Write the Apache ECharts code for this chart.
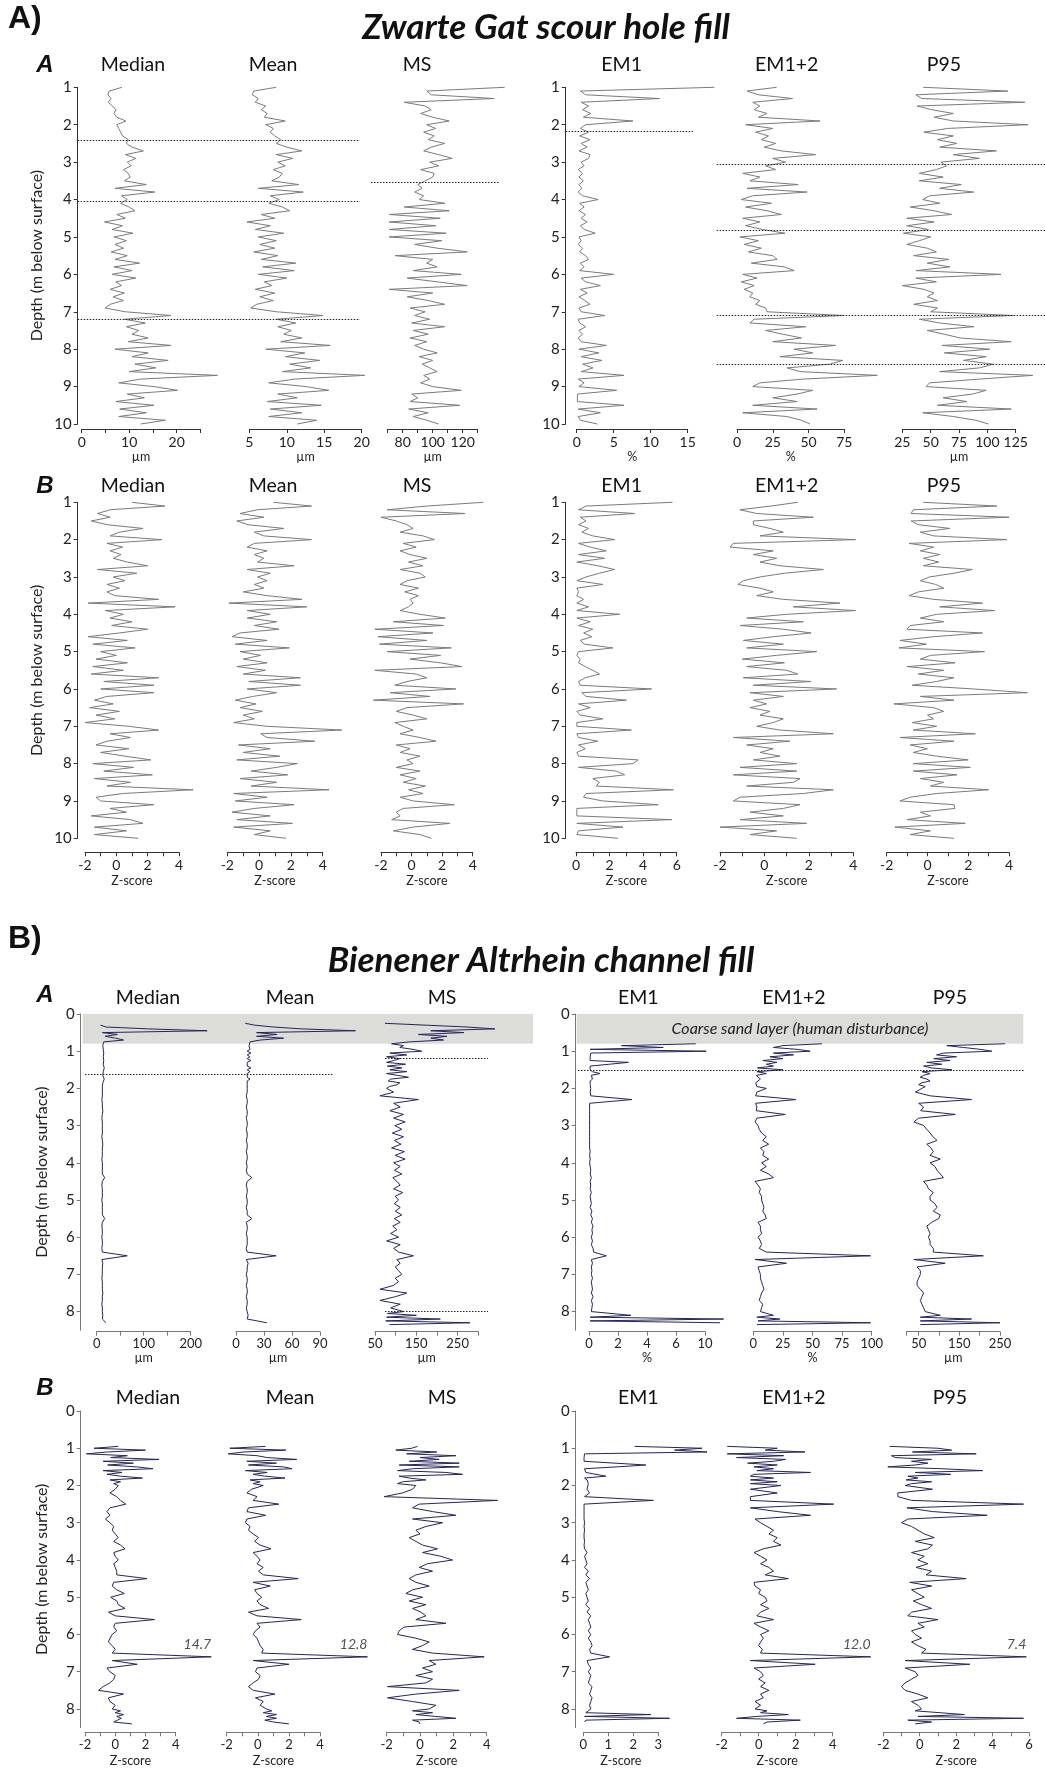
<!DOCTYPE html>
<html>
<head>
<meta charset="utf-8">
<script src="https://cdn.jsdelivr.net/npm/echarts@6/dist/echarts.min.js"></script>
<style>
  html, body { margin: 0; padding: 0; background: #fff; }
  #chart { width: 1045px; height: 1769px; }
</style>
</head>
<body>
<div id="chart"></div>
<script>
// ---------- data ----------
const panelNames = ["Median", "Mean", "MS", "EM1", "EM1+2", "P95"];

// Zwarte Gat: depth of every sample (m below surface)
const depthZG = [
  1.0,1.1,1.2,1.3,1.4,1.5,1.6,1.7,1.8,1.9,
  2.0,2.1,2.2,2.3,2.4,2.5,2.6,2.7,2.8,2.9,
  3.0,3.1,3.2,3.3,3.4,3.5,3.6,3.7,3.8,3.9,
  4.0,4.1,4.2,4.3,4.4,4.5,4.6,4.7,4.8,4.9,
  5.0,5.1,5.2,5.3,5.4,5.5,5.6,5.7,5.8,5.9,
  6.0,6.1,6.2,6.3,6.4,6.5,6.6,6.7,6.8,6.9,
  7.0,7.1,7.2,7.3,7.4,7.5,7.6,7.7,7.8,7.9,
  8.0,8.1,8.2,8.3,8.4,8.5,8.6,8.7,8.8,8.9,
  9.0,9.1,9.2,9.3,9.4,9.5,9.6,9.7,9.8,9.9,
  10.0
];

// Zwarte Gat, A: raw values
const zgMedian = [
  8.5,5.8,5.5,6.2,5.6,6.5,7.2,6.8,7.4,9.3,
  7.4,7.8,8.2,8.6,9.8,9.4,10.6,13.0,9.2,11.4,
  9.6,10.4,8.8,9.8,10.2,9.0,13.6,7.0,15.4,8.4,
  9.6,8.2,10.0,11.2,7.4,9.2,4.8,8.6,6.4,10.8,
  6.8,9.4,7.0,8.8,6.2,9.6,7.0,12.2,6.8,10.6,
  6.4,11.4,7.2,8.4,6.0,9.0,6.6,8.8,6.0,4.9,
  9.2,18.8,9.0,13.4,9.4,12.0,10.6,14.0,9.8,18.8,
  7.0,14.0,10.6,18.2,11.2,15.6,10.0,28.6,12.4,7.8,
  15.2,20.2,9.6,13.2,7.2,15.2,8.0,13.6,7.8,17.6,
  12.4
];
const zgMean = [
  8.6,5.6,5.4,6.2,5.8,7.2,6.6,7.4,7.0,9.8,
  7.2,8.2,7.8,8.4,9.2,8.6,10.0,12.0,8.6,10.8,
  8.8,9.8,8.2,9.4,9.0,8.0,11.6,6.2,12.2,7.8,
  9.0,7.6,9.4,10.4,6.6,8.4,4.7,7.8,5.8,9.6,
  6.2,8.6,6.4,8.4,5.6,8.8,6.6,11.2,6.8,11.0,
  6.2,10.0,7.0,8.0,5.8,8.4,6.4,8.2,6.0,5.2,
  8.6,14.8,8.6,11.2,8.8,10.6,9.6,12.0,9.2,15.8,
  7.2,12.4,9.8,14.4,10.4,13.2,9.4,20.4,11.0,7.6,
  12.6,15.6,8.8,11.4,7.4,14.6,7.8,12.0,7.6,14.0,
  11.4
];
const zgMS = [
  148,96,99,141,81,95,99,92,100,111,
  96,102,94,101,97,108,99,94,104,113,
  98,104,92,101,100,95,90,93,88,94,
  91,108,81,111,71,105,71,102,71,109,
  71,106,88,103,123,75,100,96,103,87,
  119,83,103,123,71,100,83,97,108,85,
  95,88,98,86,108,87,97,85,96,88,
  94,103,91,100,93,98,103,94,98,92,
  100,119,86,90,85,118,84,97,87,96,
  104
];
const zgEM1 = [
  18.6,0.5,1.2,11.2,0.6,1.6,0.8,1.9,0.9,7.6,
  1.2,0.5,1.6,0.4,1.8,0.6,1.4,0.3,1.8,1.6,
  0.6,1.0,0.2,0.8,0.3,0.9,0.3,0.7,0.2,0.8,
  2.9,0.4,1.0,0.3,1.2,0.6,1.4,0.5,1.0,2.5,
  0.3,0.6,0.2,0.8,0.4,1.2,1.6,0.5,1.0,0.4,
  5.0,0.6,1.2,3.2,0.5,1.4,0.3,1.1,1.8,0.3,
  0.6,3.8,0.2,0.4,1.2,0.3,0.8,0.2,0.6,4.0,
  0.3,3.0,0.6,3.4,0.8,2.2,0.6,6.4,0.2,1.0,
  0.3,5.4,0.1,0.1,0.1,6.4,0.2,3.2,0.2,0.5,
  2.8
];
const zgEM12 = [
  27.7,7,15,38.8,11,16,12,21,15,58,
  6,25,13,22,17,27,19,31,55,25,
  34,20,27,4,16,9,42.8,7,49,11,
  3,24,6,21,31,4,16,6,18,33.5,
  2,15,5,17,8,25,28,10,33,40,
  4,14,3,12,5,11,9,16,13,20,
  21,75,12,9,48,20,32,45,25,69,
  40,53,30,74,65,35,44,98,46,16,
  11,53,42,25,42,11,56,4,35,45,
  51
];
const zgP95 = [
  43.5,118,37,42,133,38,51,70,53,70,
  136,65,44,70,56,73,58,108,70,93,
  59,64,55,40,61,40,77,58,88,49,
  43,58,32,53,68.5,29,53,29,48,26,
  50,40,29,47,55,35,66,47,67,37,
  112,37,55,25,44,53,47,56,35,56,
  50,123,40,58,88,47,62,76,121,60,
  102,62,99,79,105,93,58,140,93,49,
  46,99,87,61,82,56,121,43,70,90,
  101
];

// Zwarte Gat, B: Z-scores
const zgMedianZ = [
  1.0,3.1,-0.4,-1.2,-0.4,-1.6,-0.6,1.7,0.2,-0.4,
  2.9,-0.6,0.4,-0.4,0.3,-0.2,0.7,2.0,-1.2,1.3,
  -0.2,0.55,-0.6,0.2,-0.6,-0.1,2.7,-1.8,3.75,-0.7,
  0.45,-0.4,1.0,-0.3,2.0,0.2,-1.8,0.7,-1.5,1.2,
  -1.0,0.0,-1.3,0.7,-1.5,0.45,-1.6,2.7,-0.8,2.4,
  -1.0,2.4,-0.6,-1.4,-0.2,-1.7,0.2,-1.3,-0.1,-2.0,
  0.8,2.7,-0.4,0.9,-0.6,-1.3,0.8,-1.0,0.55,2.2,
  -1.5,1.1,-0.8,2.3,-1.4,0.9,-0.6,4.9,0.4,-1.3,
  -1.0,2.4,-0.4,0.65,-1.6,0.9,1.7,-1.4,0.65,-1.4,
  1.4
];
const zgMeanZ = [
  0.9,3.3,-0.1,-1.2,0.3,-1.4,-0.7,1.55,-0.3,0.3,
  3.3,-0.3,-0.75,0.5,-0.3,0.3,-0.1,2.2,-0.75,0.7,
  -0.1,0.5,-0.3,0.3,-1.0,0.5,2.7,-1.9,3.0,-0.75,
  0.7,-0.75,1.1,-0.3,1.25,-1.2,-1.7,0.5,-1.5,1.9,
  -1.2,0.1,-1.0,0.5,-1.4,0.4,-1.0,2.6,-0.65,2.6,
  -0.75,1.1,-0.4,-1.5,-0.2,-1.2,0.2,-1.0,-0.3,-1.6,
  0.5,5.2,0.1,0.5,3.5,-1.3,0.7,-1.0,1.3,-1.4,
  2.4,1.1,-0.5,1.8,-1.2,1.1,-0.5,4.4,-1.6,0.5,
  -1.5,2.2,-0.3,-1.7,0.7,-1.4,2.1,-1.6,0.7,-0.3,
  1.7
];
const zgMSZ = [
  4.7,1.0,-1.6,3.5,-2.0,-1.0,-0.3,0.1,-0.75,0.75,
  1.5,-0.55,0.3,-0.75,-0.1,1.0,-0.2,0.75,-0.75,0.55,
  0.9,-0.3,-0.75,0.45,-0.45,0.45,-0.1,0.1,-0.2,-0.75,
  0.55,2.2,-1.2,2.1,-2.4,1.4,-2.2,1.0,-2.1,2.6,
  -1.6,1.9,-0.1,1.9,3.3,-2.4,0.3,1.0,-0.3,-1.1,
  2.9,-1.4,1.2,-2.5,3.4,-0.3,-1.0,0.1,1.0,-1.1,
  -0.55,0.1,-0.75,0.55,1.6,-1.0,-0.1,-0.75,0.55,-0.3,
  0.1,-1.0,0.55,-0.75,0.3,-0.55,0.9,-0.2,0.75,-0.75,
  0.1,2.8,-0.55,-1.0,-0.75,-1.3,2.5,0.1,-1.2,0.55,
  1.3
];
const zgEM1Z = [
  5.75,0.6,0.15,3.5,0.25,0.6,0.15,0.75,0.35,1.0,
  2.3,0.15,0.85,1.8,0.15,1.7,0.05,1.3,2.3,1.4,
  0.6,0.05,1.6,0.05,0.15,0.05,0.45,0.05,0.75,0.05,
  2.6,0.05,0.85,0.15,1.0,0.45,0.95,0.25,0.5,2.2,
  0.15,0.05,0.25,0.15,0.55,1.0,1.4,0.55,0.15,0.25,
  4.5,0.35,0.6,3.0,0.15,0.85,0.05,0.25,1.6,0.05,
  0.05,3.3,0.05,0.15,1.3,0.15,0.55,0.05,0.15,3.7,
  3.4,0.15,2.4,2.9,1.0,1.4,1.2,5.8,0.6,0.45,
  1.6,4.9,0.05,0.05,0.05,5.7,0.05,2.8,0.15,0.05,
  2.5
];
const zgEM12Z = [
  1.5,0.3,-1.1,-0.35,2.2,-0.5,-0.5,0.25,0.85,-0.2,
  4.1,-1.4,-1.55,0.4,-0.5,0.55,-0.2,0.7,2.65,0.9,
  -0.2,-0.95,-1.2,-0.2,0.4,-0.35,0.85,3.4,1.3,4.1,
  1.0,-0.8,1.75,-1.1,0.85,2.1,0.4,-0.95,0.85,-0.8,
  2.35,0.55,-1.0,0.9,-0.8,1.0,1.5,-0.95,2.1,-0.5,
  3.25,-0.65,0.85,-0.5,0.1,-0.65,0.25,-0.2,0.85,0.4,
  -0.35,0.7,3.1,-1.4,1.15,-0.8,0.4,-0.2,0.7,-0.5,
  1.45,-1.1,1.45,-1.4,1.6,1.3,-0.8,3.1,1.75,-1.1,
  -1.4,1.6,0.85,-0.65,0.85,-1.1,1.9,-2.0,0.55,-0.65,
  1.45
];
const zgP95Z = [
  -0.2,3.4,-0.7,-0.8,4.0,-0.8,-0.45,1.1,-0.35,0.3,
  3.9,-0.9,0.3,-0.35,0.6,-0.2,0.55,-0.2,2.2,1.3,
  0.1,-0.35,0.4,0.8,-0.45,-0.9,0.3,2.7,0.6,3.3,
  0.45,-0.35,0.8,-0.85,-1.0,2.7,0.3,-1.35,-0.05,-1.4,
  2.8,0.15,-0.35,1.35,-1.0,0.8,-0.45,1.3,0.45,-0.75,
  2.25,4.9,-0.35,1.3,-1.65,0.3,0.8,0.0,0.3,-0.75,
  0.45,-0.7,2.35,-1.35,1.3,-0.85,0.0,-0.7,0.45,2.0,
  -0.7,2.1,-0.7,1.45,-0.35,0.8,0.15,3.0,0.45,-0.85,
  -1.35,1.3,1.35,-0.35,0.15,-1.0,1.85,-1.6,0.15,-0.85,
  1.3
];

// Bienener Altrhein: depth of every sample (m below surface)
const depthBA = [
  0.25,0.3,0.35,0.4,0.45,0.5,0.55,0.6,0.65,0.7,0.75,0.8,0.85,0.9,0.95,
  1.0,1.05,1.1,1.15,1.2,1.25,1.3,1.35,1.4,1.45,1.5,1.55,1.6,1.65,1.7,1.75,1.8,1.85,1.9,1.95,2.0,
  2.1,2.2,2.3,2.4,2.5,2.6,2.7,2.8,2.9,3.0,
  3.1,3.2,3.3,3.4,3.5,3.6,3.7,3.8,3.9,4.0,
  4.1,4.2,4.3,4.4,4.5,4.6,4.7,4.8,4.9,5.0,
  5.1,5.2,5.3,5.4,5.5,5.6,5.7,5.8,5.9,6.0,
  6.1,6.2,6.3,6.4,6.5,6.6,6.7,6.8,6.9,7.0,
  7.1,7.2,7.3,7.4,7.5,7.6,7.7,7.8,7.9,
  8.0,8.05,8.1,8.15,8.2,8.25,8.3,8.35,8.4
];

// Bienener Altrhein, A: raw values
const baMedian = [
  null,8,20,110,235,12,44,18,40,57,15,12,13,11,14,
  12,15,12,14,12,15,12,14,13,16,12,14,12,13,12,16,12,13,12,12,13,
  12,12,11,12,12,13,12,11,12,12,
  12,12,11,12,13,12,12,12,11,12,
  12,12,12,17,12,11,12,12,12,11,
  12,12,12,12,17,12,11,12,12,11,
  12,12,11,12,65,11,13,12,12,12,
  11,12,12,12,13,12,12,11,12,
  12,12,13,12,12,13,20,null,null
];
const baMean = [
  10,20,40,70,128,22,44,22,51,26,15,13,14,12,15,
  12,16,12,15,12,16,12,14,12,16,12,15,12,13,12,15,12,13,12,12,12,
  12,11,12,12,11,12,12,11,12,12,
  11,12,12,11,12,12,11,12,12,11,
  12,11,12,17,12,11,12,12,11,12,
  12,11,12,12,17,11,12,12,11,12,
  12,12,11,12,43,11,13,12,12,11,
  12,12,11,12,12,11,12,12,11,
  12,12,13,12,12,11,33,null,null
];
const baMS = [
  74,78,273,340,185,265,155,224,185,216,133,90,119,110,142,
  163,86,127,78,110,95,78,124,80,115,86,127,78,105,131,88,82,110,103,85,78,
  95,62,155,95,111,86,119,95,123,98,
  115,92,119,97,113,90,121,99,123,95,
  111,97,115,93,103,111,95,117,99,107,
  97,111,99,115,97,111,93,103,88,107,
  78,111,95,107,143,103,111,99,107,115,
  99,107,94,62,127,99,62,111,88,
  119,80,150,78,208,76,280,85,null
];
const baEM1 = [
  null,null,null,null,null,null,null,null,null,null,null,9.2,2.8,6.4,0.1,
  10.1,0.15,0.1,0.1,0.1,0.1,3.4,1.75,0.1,0.1,0.1,0.3,0.95,0.2,0.15,0.3,0.1,0.2,0.1,0.2,0.15,
  0.1,0.15,3.7,0.05,0.05,0.05,0.05,0.05,0.05,0.05,
  0.05,0.05,0.05,0.05,0.05,0.05,0.1,0.05,0.1,0.05,
  0.1,0.15,0.1,0.2,0.1,0.15,0.1,0.2,0.1,0.15,
  0.2,0.1,0.25,0.15,0.3,0.2,0.35,0.25,0.3,0.2,
  0.3,0.2,0.35,0.4,1.5,0.2,0.3,0.2,0.25,0.2,
  0.3,0.2,0.25,0.3,0.2,0.35,0.2,0.3,0.25,
  0.2,0.1,3.6,0.1,11.6,0.1,11.3,null,null
];
const baEM12 = [
  null,null,null,null,null,null,null,null,null,null,null,58,25,17,37,
  48,17,34,14,25,8,20,11,17,3.5,25,3,11,2.5,1.5,6,5.5,2,1.5,3,11,
  3,2,36,2,3,2.5,27,3,1.5,4,
  5,7,11,8,13,6,9,8,13,7,
  11,6,13,17,1.5,4,6,5,7,7,
  8,9,8,10,11,4,6,6,7,4,
  6,7,5,11,99,1.5,28,4,5,6,
  6,7,8,9,7,6,5,8,7,
  6,5,17,3,22.5,4,99,3,null
];
const baP95 = [
  null,null,null,null,null,null,null,null,null,null,null,262,119,160,201,
  230,112,94,143,87,127,70,107,62,82,132,58,78,62,54,70,78,58,50,66,70,
  42,78,180,50,62,55,140,50,38,62,
  70,78,85,95,70,80,86,78,103,78,
  90,95,103,111,62,70,74,86,78,78,
  90,95,86,103,99,82,70,74,78,74,
  78,78,86,86,209,38,115,46,54,54,
  50,46,46,54,62,58,54,58,62,
  66,66,103,54,180,54,250,54,null
];

// Bienener Altrhein, B: Z-scores
const baMedianZ = [
  null,null,null,null,null,null,null,null,null,null,null,null,null,null,0.2,
  -1.4,2.0,-0.5,-1.9,0.8,-0.3,2.9,-0.8,1.2,-0.5,1.4,2.5,-0.8,0.45,-0.55,0.35,1.8,-0.35,0.35,-0.1,0.2,
  0.0,-0.35,0.1,0.35,0.7,-0.35,-0.55,-0.35,-0.65,-0.35,
  -0.1,-0.2,0.0,0.2,-0.1,0.35,0.65,-0.1,0.0,0.2,
  -0.1,0.0,0.1,0.1,2.1,-0.1,-0.2,0.1,0.6,-0.3,
  0.1,0.2,0.65,-0.45,0.0,2.6,0.0,-0.1,0.1,-0.2,
  -0.35,-0.45,-0.2,0.0,-0.2,14.7,-0.2,1.45,-0.55,-0.35,
  0.0,-0.1,-0.35,-0.8,-1.1,0.55,-0.45,-0.35,0.0,
  -0.2,0.35,0.0,0.55,0.1,0.4,0.45,-0.1,1.1
];
const baMeanZ = [
  null,null,null,null,null,null,null,null,null,null,null,null,null,null,0.5,
  -1.8,1.8,-0.9,-1.9,-0.05,0.6,2.5,-0.7,1.2,-0.6,1.65,2.2,-0.8,0.6,-0.3,0.45,1.75,-0.5,0.15,-0.3,0.35,
  -0.4,-0.7,-0.05,-0.3,1.35,-0.6,-0.7,0.5,-0.7,-0.8,
  -0.5,-0.6,-0.3,0.05,-0.2,0.15,0.85,-0.3,-0.05,0.15,
  -0.05,0.35,0.05,0.35,2.6,-0.3,0.8,-0.2,-0.05,0.25,
  -0.05,0.15,0.7,-0.6,-0.05,2.8,-0.05,0.15,-0.15,-0.3,
  -0.05,0.05,0.15,0.35,0.25,12.8,-0.3,2.0,-0.05,-0.15,
  0.15,0.05,-0.3,-0.6,-0.3,1.1,-0.15,0.35,0.15,
  0.55,0.9,0.35,1.2,0.55,1.2,0.45,1.0,2.0
];
const baMSZ = [
  null,null,null,null,null,null,null,null,null,null,null,null,null,null,-0.15,
  -0.5,-1.45,1.0,-0.8,2.15,0.0,1.15,-0.65,2.35,-1.25,2.35,-0.45,-1.35,1.55,2.55,-1.25,-0.65,0.35,-1.05,-1.35,-0.25,
  -0.45,-1.05,-2.15,4.65,-0.05,-0.45,0.75,2.15,-0.45,1.35,
  0.35,-0.25,0.0,-0.65,-0.25,0.15,1.05,0.15,1.25,1.95,
  0.45,-0.05,0.75,-0.25,-0.65,-0.25,0.55,-0.45,-0.85,0.15,
  -0.65,0.35,-0.45,0.05,0.35,-0.25,1.55,-0.95,-1.25,-1.35,
  -0.25,0.55,0.15,-0.45,0.75,3.85,0.55,0.95,0.15,0.75,
  -0.25,0.75,0.35,-1.95,2.35,-0.25,-1.95,-0.45,0.95,
  0.55,-0.45,0.75,-0.25,0.95,2.15,-0.45,-0.05,0.0
];
const baEM1Z = [
  null,null,null,null,null,null,null,null,null,null,null,null,null,null,2.05,
  4.75,3.65,4.95,0.05,0.03,0.03,0.03,0.03,0.03,2.5,1.35,0.05,0.03,0.1,0.15,0.9,0.05,0.15,0.1,0.2,0.15,
  0.15,0.25,0.05,2.8,0.03,0.03,0.03,0.03,0.03,0.05,
  0.03,0.05,0.03,0.03,0.05,0.03,0.05,0.15,0.05,0.1,
  0.15,0.05,0.2,0.1,0.25,0.1,0.15,0.2,0.1,0.15,
  0.2,0.1,0.25,0.15,0.3,0.2,0.25,0.3,0.2,0.3,
  0.2,0.3,0.35,0.25,0.3,1.05,0.15,0.2,0.3,0.2,
  0.3,0.25,0.2,0.35,0.3,0.25,0.35,0.3,0.25,
  0.3,0.2,0.1,2.7,0.05,3.45,0.1,0.05,null
];
const baEM12Z = [
  null,null,null,null,null,null,null,null,null,null,null,null,null,null,-1.7,
  1.0,0.35,2.5,-1.7,1.35,-1.2,1.45,0.8,-0.6,1.0,-0.25,0.8,-0.1,2.8,-0.25,-0.45,0.8,-0.45,1.0,-0.45,1.2,
  -0.45,1.0,-0.45,-0.45,4.05,-0.45,1.0,2.8,-0.2,0.1,
  0.45,0.8,0.55,1.0,0.8,1.2,0.25,-0.25,0.1,0.45,
  0.1,0.55,0.8,0.35,1.6,-0.25,-0.2,0.1,0.0,0.35,
  0.45,0.1,0.55,0.1,-0.1,0.8,-0.25,0.1,0.55,0.1,
  0.25,0.1,0.0,0.2,0.1,12.0,-0.45,3.05,-0.25,0.1,
  0.25,0.0,0.35,0.1,0.55,0.1,0.25,-0.2,0.1,
  -0.2,0.45,0.1,1.6,-0.1,-1.2,2.25,0.45,0.25
];
const baP95Z = [
  null,null,null,null,null,null,null,null,null,null,null,null,null,null,-1.65,
  1.0,1.75,-0.4,3.1,-1.55,-1.35,0.65,-0.45,0.45,-0.25,-1.75,1.2,3.45,-0.25,1.7,-0.65,-0.1,-0.75,0.65,-0.45,-0.8,
  0.7,-1.2,-1.2,-0.45,5.7,-0.7,0.7,3.7,-0.65,-1.0,
  -0.45,-0.1,0.25,0.8,-0.25,0.7,0.45,-0.45,0.25,-0.1,
  0.45,-0.2,0.65,0.35,2.55,-0.55,0.65,-0.45,-0.1,0.25,
  -0.35,0.1,0.65,-0.45,-0.65,1.0,-0.1,0.25,-0.45,-0.25,
  0.1,-0.45,-0.1,0.35,0.1,7.4,-0.8,2.75,-0.8,-0.25,
  -0.1,-0.45,-0.8,-1.0,-0.8,-0.1,0.45,-0.45,-0.1,
  0.1,-0.25,-0.25,2.45,-0.1,5.7,-0.65,0.65,-0.25
];

// unit boundaries (dotted lines) and the disturbed top layer
const zgBoundsMedianMean = [2.42, 4.04, 7.19];
const zgBoundsMS = [3.54];
const zgBoundsEM1 = [2.18];
const zgBoundsEM12P95 = [3.05, 4.82, 7.1, 8.4];
const baBoundsMedianMean = [1.62];
const baBoundsMS = [1.18, 8.0];
const baBoundsRight = [1.52];
const baSandLayer = [0, 0.8];

// axis ranges, ticks and tick labels
const zTicks = [-2, -1, 0, 1, 2, 3, 4];
const zLabels = [-2, 0, 2, 4];
const zgRangeA = [[0, 25], [5, 20], [70, 130], [0, 15], [0, 75], [25, 125]];
const zgTicksA = [[0,5,10,15,20,25], [5,10,15,20], [70,80,90,100,110,120,130], [0,5,10,15], [0,25,50,75], [25,50,75,100,125]];
const zgLabelsA = [[0,10,20], [5,10,15,20], [80,100,120], [0,5,10,15], [0,25,50,75], [25,50,75,100,125]];
const zgRangeB = [[-2, 4], [-2, 4], [-2, 4], [0, 6], [-2, 4], [-2, 4]];
const zgTicksB = [zTicks, zTicks, zTicks, [0,1,2,3,4,5,6], zTicks, zTicks];
const zgLabelsB = [zLabels, zLabels, zLabels, [0,2,4,6], zLabels, zLabels];
const baRangeA = [[0, 200], [0, 90], [50, 300], [0, 10], [0, 100], [20, 250]];
const baTicksA = [[0,50,100,150,200], [0,30,60,90], [50,100,150,200,250,300], [0,2.5,5,7.5,10], [0,25,50,75,100], [20,50,100,150,200,250]];
const baLabelsA = [[0,100,200], [0,30,60,90], [50,150,250], [0,2.5,5,7.5,10], [0,25,50,75,100], [50,150,250]];
const baEM1LabelText = ["0", "2", "4", "6", "10"];
const baRangeB = [[-2, 4], [-2, 4], [-2, 4], [0, 3], [-2, 4], [-2, 6]];
const baTicksB = [zTicks, zTicks, zTicks, [0,1,2,3], zTicks, [-2,-1,0,1,2,3,4,5,6]];
const baLabelsB = [zLabels, zLabels, zLabels, [0,1,2,3], zLabels, [-2,0,2,4,6]];
const unitsA = ["µm", "µm", "µm", "%", "%", "µm"];
const zgDepthTicks = [1,2,3,4,5,6,7,8,9,10];
const baDepthTicks = [0,1,2,3,4,5,6,7,8];
// Z-score spikes that run off the panel are cut at this value and labelled
const baCapB = [6.35, 7.05, null, null, 6.05, 5.85];

// ---------- layout ----------
const FONT = "Lato, 'Open Sans', sans-serif";
const ZG_LINE = "#7b7b7b";
const BA_LINE = "#25255c";

const rows = [
  { depth: depthZG, series: [zgMedian, zgMean, zgMS, zgEM1, zgEM12, zgP95],
    range: zgRangeA, ticks: zgTicksA, labels: zgLabelsA, units: unitsA,
    top: 87.3, height: 336.7, ymin: 1, ymax: 10, depthTicks: zgDepthTicks,
    xpos: [[81.7,200.4],[249.3,361.7],[387.7,477.7],[576.7,687.7],[737,844.3],[902.3,1015.7]],
    yAxisX: [77.7, 565.7], xOff: 5, nameGap: 21, color: ZG_LINE, axisColor: "#333",
    titleX: [133, 273, 417, 621.7, 786.7, 944], titleY: 65, tag: "A", tagY: 65, nameGapY: 33 },
  { depth: depthZG, series: [zgMedianZ, zgMeanZ, zgMSZ, zgEM1Z, zgEM12Z, zgP95Z],
    range: zgRangeB, ticks: zgTicksB, labels: zgLabelsB, units: Array(6).fill("Z-score"),
    top: 502.3, height: 336, ymin: 1, ymax: 10, depthTicks: zgDepthTicks,
    xpos: [[85,179],[227.3,322.7],[381,472.7],[576,676.7],[720,853.3],[886.7,1009]],
    yAxisX: [77.7, 565.7], xOff: 14, nameGap: 22, color: ZG_LINE, axisColor: "#333",
    titleX: [133, 273, 417, 621.7, 786.7, 944], titleY: 486, tag: "B", tagY: 486, nameGapY: 33 },
  { depth: depthBA, series: [baMedian, baMean, baMS, baEM1, baEM12, baP95],
    range: baRangeA, ticks: baTicksA, labels: baLabelsA, units: unitsA,
    top: 1014, height: 316.2, ymin: 0, ymax: 8.5, depthTicks: baDepthTicks,
    xpos: [[96.7,190.7],[236,320],[375,478.3],[589,705],[753.3,871.7],[906.5,1000]],
    yAxisX: [80.7, 575.7], xOff: 1.5, nameGap: 20, color: BA_LINE, axisColor: "#777",
    titleX: [148, 290, 442, 638.3, 794, 950], titleY: 998, tag: "A", tagY: 995, nameGapY: 31 },
  { depth: depthBA, series: [baMedianZ, baMeanZ, baMSZ, baEM1Z, baEM12Z, baP95Z],
    range: baRangeB, ticks: baTicksB, labels: baLabelsB, units: Array(6).fill("Z-score"),
    top: 1411, height: 316.6, ymin: 0, ymax: 8.5, depthTicks: baDepthTicks, caps: baCapB,
    xpos: [[85,175.7],[226.7,320],[386.7,486.7],[583.3,658.3],[721.7,832.7],[883.3,1029]],
    yAxisX: [80.7, 575.7], xOff: 4.7, nameGap: 22, color: BA_LINE, axisColor: "#777",
    titleX: [148, 290, 442, 638.3, 794, 950], titleY: 1398, tag: "B", tagY: 1388, nameGapY: 31 }
];

const grid = [], xAxis = [], yAxis = [], series = [], texts = [];

function addText(text, x, y, font, align) {
  texts.push({ type: "text", x: x, y: y, silent: true,
    style: { text: text, font: font, fill: "#111", textAlign: align || "center", textVerticalAlign: "middle" } });
}

rows.forEach(function (row, r) {
  addText(row.tag, 45, row.tagY, "italic bold 24px 'Liberation Sans', Arial, sans-serif");
  row.series.forEach(function (vals, p) {
    const x0 = row.xpos[p][0], x1 = row.xpos[p][1];
    const min = row.range[p][0], max = row.range[p][1];

    // visible axes of the panel
    const gi = grid.length;
    grid.push({ left: x0, top: row.top, width: x1 - x0, height: row.height });
    const isEM1Bienener = r === 2 && p === 3;
    xAxis.push({
      gridIndex: gi, type: "value", position: "bottom", min: min, max: max, offset: row.xOff,
      axisLine: { show: true, onZero: false, lineStyle: { color: row.axisColor, width: 1 } },
      axisTick: { show: true, customValues: row.ticks[p], length: 4, lineStyle: { color: row.axisColor } },
      axisLabel: { show: true, customValues: row.labels[p], margin: 6, fontSize: r < 2 ? 14 : 13,
        color: "#222", fontFamily: FONT,
        formatter: function (v) {
          if (isEM1Bienener) return baEM1LabelText[baTicksA[3].indexOf(v)];
          return String(v);
        } },
      splitLine: { show: false },
      name: row.units[p], nameLocation: "middle", nameGap: row.nameGap,
      nameTextStyle: { fontSize: 12.5, color: "#222", fontFamily: FONT }
    });
    const showY = p === 0 || p === 3;
    const yx = row.yAxisX[p < 3 ? 0 : 1];
    yAxis.push({
      gridIndex: gi, type: "value", inverse: true, min: row.ymin, max: row.ymax,
      show: showY, position: "left", offset: x0 - yx,
      axisLine: { show: true, onZero: false, lineStyle: { color: row.axisColor, width: 1 } },
      axisTick: { show: true, customValues: row.depthTicks, length: 4, lineStyle: { color: row.axisColor } },
      axisLabel: { show: true, customValues: row.depthTicks, margin: 6, fontSize: 15, color: "#222", fontFamily: FONT },
      splitLine: { show: false },
      name: p === 0 ? "Depth (m below surface)" : "", nameLocation: "middle", nameRotate: 90,
      nameGap: row.nameGapY, nameTextStyle: { fontSize: 16, color: "#222", fontFamily: FONT }
    });

    // data points; off-scale Z spikes are cut at the cap
    const cap = row.caps ? row.caps[p] : null;
    const pts = [], capped = [];
    vals.forEach(function (v, k) {
      if (v === null) return;
      if (cap !== null && v > cap) {
        pts.push([cap, row.depth[k]]);
        capped.push({ value: [cap, row.depth[k]], raw: v });
      } else {
        pts.push([v, row.depth[k]]);
      }
    });

    // hidden data grid with the same scale, widened so spikes can run past the axis ends
    let dmin = min, dmax = max;
    pts.forEach(function (pt) { dmin = Math.min(dmin, pt[0]); dmax = Math.max(dmax, pt[0]); });
    const ppu = (x1 - x0) / (max - min);
    const di = grid.length;
    grid.push({ left: x0 - (min - dmin) * ppu, width: (dmax - dmin) * ppu, top: row.top, height: row.height });
    xAxis.push({ gridIndex: di, type: "value", min: dmin, max: dmax, show: false });
    yAxis.push({ gridIndex: di, type: "value", inverse: true, min: row.ymin, max: row.ymax, show: false });

    series.push({
      type: "line", xAxisIndex: di, yAxisIndex: di, data: pts, clip: false,
      showSymbol: false, symbol: "none", silent: true, z: 3,
      lineStyle: { color: row.color, width: 1 }
    });
    if (capped.length) {
      series.push({
        type: "scatter", xAxisIndex: di, yAxisIndex: di, symbolSize: 0, silent: true, clip: false,
        data: capped.map(function (c) {
          return { value: c.value, label: { show: true, formatter: c.raw.toFixed(1) } };
        }),
        label: { position: "top", align: "right", distance: 5, fontSize: 14, fontStyle: "italic",
          color: "#222", fontFamily: FONT }
      });
    }
    addText(panelNames[p], row.titleX[p], row.titleY, "19.5px " + FONT);
  });
});

// overlay grids: dotted unit boundaries and the grey top layer
function addOverlay(rowIdx, x0, x1, bounds, band, bandLabel) {
  const row = rows[rowIdx];
  const gi = grid.length;
  grid.push({ left: x0, top: row.top, width: x1 - x0, height: row.height });
  xAxis.push({ gridIndex: gi, type: "value", min: 0, max: 1, show: false });
  yAxis.push({ gridIndex: gi, type: "value", inverse: true, min: row.ymin, max: row.ymax, show: false });
  const s = {
    type: "line", xAxisIndex: gi, yAxisIndex: gi, data: [], silent: true, showSymbol: false,
    z: band ? 1 : 4
  };
  if (bounds) {
    s.markLine = { silent: true, symbol: "none", animation: false,
      label: { show: false },
      lineStyle: { color: "#222", type: [1.5, 1.5], width: 1 },
      data: bounds.map(function (d) { return { yAxis: d }; }) };
  }
  if (band) {
    s.markArea = { silent: true, itemStyle: { color: "#dcdcd8" },
      label: { show: !!bandLabel, position: "inside", formatter: bandLabel || "",
        fontSize: 16, fontStyle: "italic", color: "#222", fontFamily: FONT },
      data: [[{ yAxis: band[0] }, { yAxis: band[1] }]] };
  }
  series.push(s);
}
addOverlay(0, 77.7, 360, zgBoundsMedianMean);
addOverlay(0, 371, 499, zgBoundsMS);
addOverlay(0, 565.7, 693, zgBoundsEM1);
addOverlay(0, 716.7, 1045, zgBoundsEM12P95);
addOverlay(2, 82.7, 533, null, baSandLayer);
addOverlay(2, 576.7, 1023.3, null, baSandLayer, "Coarse sand layer (human disturbance)");
addOverlay(2, 85, 333, baBoundsMedianMean);
addOverlay(2, 385, 488, baBoundsMS);
addOverlay(2, 578, 1025, baBoundsRight);

// section headings
addText("A)", 8, 19, "bold 32px 'Liberation Sans', Arial, sans-serif", "left");
addText("Zwarte Gat scour hole fill", 546, 28, "italic bold 35px " + FONT);
addText("B)", 8, 939, "bold 32px 'Liberation Sans', Arial, sans-serif", "left");
addText("Bienener Altrhein channel fill", 541, 961, "italic bold 35px " + FONT);

const chart = echarts.init(document.getElementById("chart"), null, { renderer: "canvas" });
chart.setOption({
  animation: false,
  backgroundColor: "#fff",
  grid: grid,
  xAxis: xAxis,
  yAxis: yAxis,
  series: series,
  graphic: { elements: texts }
});
</script>
</body>
</html>
